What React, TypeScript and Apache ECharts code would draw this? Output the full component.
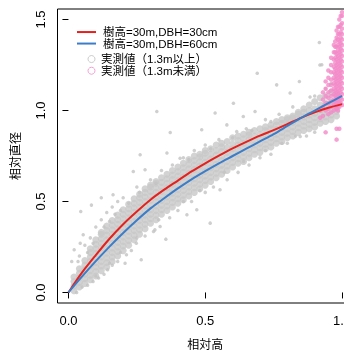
import React, { useEffect, useRef } from "react";
import * as echarts from "echarts";

const xTicks = [0, 0.5, 1];
const yTicks = [0, 0.5, 1, 1.5];

const redName = "樹高=30m,DBH=30cm";
const blueName = "樹高=30m,DBH=60cm";
const grayName = "実測値（1.3m以上）";
const pinkName = "実測値（1.3m未満）";

const lineX = [0, 0.05, 0.1, 0.15, 0.2, 0.25, 0.3, 0.35, 0.4, 0.45, 0.5, 0.55, 0.6, 0.65, 0.7, 0.75, 0.8, 0.85, 0.9, 0.95, 1.0];
const redY = [0, 0.11, 0.205, 0.295, 0.375, 0.445, 0.51, 0.565, 0.615, 0.665, 0.71, 0.752, 0.792, 0.828, 0.862, 0.892, 0.925, 0.96, 0.99, 1.015, 1.035];
const blueY = [0, 0.088, 0.172, 0.252, 0.327, 0.397, 0.462, 0.518, 0.572, 0.622, 0.667, 0.71, 0.75, 0.79, 0.83, 0.87, 0.915, 0.96, 1.0, 1.04, 1.08];

// dense cloud of measured points (1.3m以上): [x, y values...]
const grayDenseCols: number[][] = [
  [0.02, 0.01, 0.035, 0.06, 0.085],
  [0.04, 0.03, 0.055, 0.08, 0.105, 0.13],
  [0.06, 0.05, 0.075, 0.1, 0.125, 0.15, 0.175],
  [0.08, 0.07, 0.095, 0.12, 0.145, 0.17, 0.195, 0.22, 0.24],
  [0.1, 0.09, 0.115, 0.14, 0.165, 0.19, 0.215, 0.24, 0.265, 0.29],
  [0.12, 0.12, 0.145, 0.17, 0.195, 0.22, 0.245, 0.27, 0.295, 0.32, 0.33],
  [0.14, 0.14, 0.165, 0.19, 0.215, 0.24, 0.265, 0.29, 0.315, 0.34, 0.365],
  [0.16, 0.17, 0.195, 0.22, 0.245, 0.27, 0.295, 0.32, 0.345, 0.37, 0.395],
  [0.18, 0.2, 0.225, 0.25, 0.275, 0.3, 0.325, 0.35, 0.375, 0.4, 0.425],
  [0.2, 0.23, 0.255, 0.28, 0.305, 0.33, 0.355, 0.38, 0.405, 0.43, 0.455],
  [0.22, 0.26, 0.285, 0.31, 0.335, 0.36, 0.385, 0.41, 0.435, 0.46, 0.485],
  [0.24, 0.29, 0.315, 0.34, 0.365, 0.39, 0.415, 0.44, 0.465, 0.49, 0.515],
  [0.26, 0.32, 0.345, 0.37, 0.395, 0.42, 0.445, 0.47, 0.495, 0.52, 0.54],
  [0.28, 0.35, 0.375, 0.4, 0.425, 0.45, 0.475, 0.5, 0.525, 0.55, 0.57],
  [0.3, 0.38, 0.405, 0.43, 0.455, 0.48, 0.505, 0.53, 0.555, 0.58, 0.59],
  [0.32, 0.4, 0.425, 0.45, 0.475, 0.5, 0.525, 0.55, 0.575, 0.6, 0.61],
  [0.34, 0.43, 0.455, 0.48, 0.505, 0.53, 0.555, 0.58, 0.605, 0.63],
  [0.36, 0.45, 0.475, 0.5, 0.525, 0.55, 0.575, 0.6, 0.625, 0.65],
  [0.38, 0.47, 0.495, 0.52, 0.545, 0.57, 0.595, 0.62, 0.645, 0.67],
  [0.4, 0.49, 0.515, 0.54, 0.565, 0.59, 0.615, 0.64, 0.665, 0.69],
  [0.42, 0.51, 0.535, 0.56, 0.585, 0.61, 0.635, 0.66, 0.685, 0.71],
  [0.44, 0.53, 0.555, 0.58, 0.605, 0.63, 0.655, 0.68, 0.705, 0.73],
  [0.46, 0.55, 0.575, 0.6, 0.625, 0.65, 0.675, 0.7, 0.725, 0.75],
  [0.48, 0.57, 0.595, 0.62, 0.645, 0.67, 0.695, 0.72, 0.745, 0.76],
  [0.5, 0.59, 0.615, 0.64, 0.665, 0.69, 0.715, 0.74, 0.765, 0.78],
  [0.52, 0.61, 0.635, 0.66, 0.685, 0.71, 0.735, 0.76, 0.79],
  [0.54, 0.63, 0.655, 0.68, 0.705, 0.73, 0.755, 0.78, 0.81],
  [0.56, 0.65, 0.675, 0.7, 0.725, 0.75, 0.775, 0.8, 0.82],
  [0.58, 0.67, 0.695, 0.72, 0.745, 0.77, 0.795, 0.83],
  [0.6, 0.69, 0.715, 0.74, 0.765, 0.79, 0.815, 0.85],
  [0.62, 0.71, 0.735, 0.76, 0.785, 0.81, 0.835, 0.86],
  [0.64, 0.72, 0.745, 0.77, 0.795, 0.82, 0.845, 0.87],
  [0.66, 0.74, 0.765, 0.79, 0.815, 0.84, 0.865, 0.88],
  [0.68, 0.76, 0.785, 0.81, 0.835, 0.86, 0.89],
  [0.7, 0.77, 0.795, 0.82, 0.845, 0.87, 0.9],
  [0.72, 0.79, 0.815, 0.84, 0.865, 0.89, 0.91],
  [0.74, 0.8, 0.825, 0.85, 0.875, 0.9, 0.92],
  [0.76, 0.82, 0.845, 0.87, 0.895, 0.92, 0.94],
  [0.78, 0.83, 0.855, 0.88, 0.905, 0.93, 0.95],
  [0.8, 0.85, 0.875, 0.9, 0.925, 0.95, 0.96],
  [0.82, 0.86, 0.885, 0.91, 0.935, 0.96, 0.97],
  [0.84, 0.88, 0.905, 0.93, 0.955, 0.98, 0.99],
  [0.86, 0.89, 0.915, 0.94, 0.965, 0.99, 1.01],
  [0.88, 0.9, 0.925, 0.95, 0.975, 1.0, 1.03],
  [0.9, 0.91, 0.935, 0.96, 0.985, 1.01, 1.05],
  [0.92, 0.93, 0.955, 0.98, 1.005, 1.03, 1.07],
  [0.94, 0.94, 0.965, 0.99, 1.015, 1.04, 1.08],
  [0.96, 0.95, 0.975, 1.0, 1.025, 1.05, 1.1],
  [0.98, 0.97, 0.995, 1.02, 1.045, 1.09],
];

// scattered measured points (1.3m以上) at the edges of the cloud
const graySparse: number[][] = [
  [0.012, 0.17], [0.021, 0.235], [0.035, 0.17], [0.043, 0.271], [0.045, 0.445], [0.054, 0.317],
  [0.084, 0.48], [0.12, 0.52], [0.163, 0.537], [0.143, 0.125], [0.03, 0.0], [0.05, 0.03],
  [0.07, 0.04], [0.09, 0.06], [0.11, 0.08], [0.13, 0.1], [0.16, 0.15], [0.18, 0.17],
  [0.207, 0.161], [0.212, 0.207], [0.23, 0.23], [0.248, 0.271], [0.266, 0.18], [0.28, 0.31],
  [0.311, 0.335], [0.316, 0.344], [0.335, 0.363], [0.356, 0.293], [0.37, 0.41], [0.4, 0.45],
  [0.433, 0.427], [0.45, 0.5], [0.469, 0.454], [0.5, 0.55], [0.518, 0.381], [0.53, 0.58],
  [0.554, 0.564], [0.58, 0.62], [0.62, 0.66], [0.66, 0.7], [0.7, 0.74], [0.74, 0.76],
  [0.8, 0.82], [0.847, 0.857], [0.87, 0.86], [0.9, 0.88],
  [0.04, 0.2], [0.06, 0.26], [0.08, 0.3], [0.1, 0.36], [0.12, 0.4], [0.14, 0.44],
  [0.16, 0.47], [0.18, 0.5], [0.2, 0.52], [0.237, 0.665], [0.262, 0.757], [0.28, 0.674],
  [0.25, 0.58], [0.3, 0.62], [0.323, 0.995], [0.34, 0.67], [0.36, 0.766], [0.372, 0.879],
  [0.38, 0.7], [0.408, 0.738], [0.42, 0.74], [0.46, 0.78], [0.487, 0.894], [0.5, 0.81],
  [0.536, 0.986], [0.55, 0.84], [0.579, 0.921], [0.603, 1.04], [0.615, 0.885], [0.639, 0.967],
  [0.65, 0.9], [0.682, 0.995], [0.69, 1.205], [0.72, 0.95], [0.761, 1.141], [0.77, 0.98],
  [0.81, 1.096], [0.82, 1.02], [0.844, 1.159], [0.883, 1.074], [0.9, 1.08], [0.917, 1.374],
  [0.919, 1.25], [0.926, 1.251], [0.94, 1.12], [0.96, 1.15],
  [0.07, 0.22], [0.09, 0.27], [0.13, 0.36], [0.15, 0.39], [0.17, 0.43], [0.19, 0.45],
  [0.22, 0.49], [0.26, 0.55], [0.32, 0.6], [0.44, 0.73], [0.52, 0.79], [0.6, 0.85],
  [0.67, 0.89], [0.74, 0.94], [0.1, 0.09], [0.15, 0.16], [0.19, 0.22], [0.25, 0.3],
  [0.33, 0.4], [0.42, 0.5], [0.48, 0.56], [0.57, 0.66], [0.64, 0.72], [0.72, 0.78],
  [0.78, 0.82], [0.83, 0.86],
];

// measured points (1.3m未満): [x, y values...]
const pinkCols: number[][] = [
  [0.92, 0.96, 1.0],
  [0.93, 0.97, 1.02, 1.06, 1.1],
  [0.94, 0.88, 1.0, 1.04, 1.08, 1.12, 1.16],
  [0.95, 0.98, 1.01, 1.04, 1.07, 1.1, 1.14, 1.18, 1.22],
  [0.96, 0.99, 1.02, 1.05, 1.08, 1.11, 1.14, 1.17, 1.21, 1.25, 1.29],
  [0.97, 1.0, 1.03, 1.06, 1.09, 1.12, 1.15, 1.18, 1.21, 1.24, 1.28, 1.32, 1.36],
  [0.975, 1.02, 1.05, 1.08, 1.11, 1.14, 1.17, 1.2, 1.23, 1.26, 1.29, 1.32, 1.35, 1.38],
  [0.98, 0.84, 0.9, 1.01, 1.04, 1.07, 1.1, 1.13, 1.16, 1.19, 1.22, 1.25, 1.28, 1.31, 1.35, 1.4, 1.44],
  [0.985, 1.0, 1.03, 1.06, 1.09, 1.12, 1.15, 1.18, 1.21, 1.24, 1.27, 1.3, 1.33, 1.36, 1.39, 1.42, 1.46],
  [0.99, 0.9, 1.02, 1.05, 1.08, 1.11, 1.14, 1.17, 1.2, 1.23, 1.26, 1.29, 1.32, 1.35, 1.38, 1.42, 1.46, 1.5],
  [0.995, 1.04, 1.07, 1.1, 1.13, 1.16, 1.19, 1.22, 1.25, 1.28, 1.31, 1.34, 1.37, 1.4, 1.43, 1.47, 1.52],
  [1.0, 1.03, 1.06, 1.09, 1.12, 1.15, 1.18, 1.21, 1.24, 1.27, 1.3, 1.33, 1.36, 1.39, 1.42, 1.45, 1.48, 1.52, 1.54],
];

const FONT = "'Liberation Sans', Arial, 'Noto Sans CJK JP', sans-serif";
const RED = "#E5211E";
const BLUE = "#3B7DC8";
const GRAY = "#C3C3C3";
const DENSE = "#C8C8C8";
const PINK = "#F38AC8";

function expandCols(cols: number[][]): number[][] {
  const out: number[][] = [];
  cols.forEach((c) => {
    for (let i = 1; i < c.length; i++) out.push([c[0], c[i]]);
  });
  return out;
}

export default function App() {
  const ref = useRef<HTMLDivElement>(null);
  useEffect(() => {
    if (!ref.current) return;
    const chart = echarts.init(ref.current, null, { renderer: "svg" });
    const fmt = (v: number) => v.toFixed(1);
    const option: any = {
      animation: false,
      grid: {
        left: 57.5, top: 9, width: 295.5, height: 294,
        show: true, borderColor: "#000", borderWidth: 1,
        containLabel: false, outerBoundsMode: "none",
      },
      xAxis: {
        type: "value", min: -0.04, max: 1.04,
        axisLine: { show: false }, splitLine: { show: false },
        axisTick: { show: true, length: 6, customValues: xTicks, lineStyle: { color: "#000" } },
        axisLabel: { customValues: xTicks, formatter: fmt, margin: 11, fontSize: 13, color: "#000", fontFamily: FONT },
        name: "相対高", nameLocation: "middle", nameGap: 36,
        nameTextStyle: { fontSize: 12, color: "#000", fontFamily: FONT },
      },
      yAxis: {
        type: "value", min: -0.058, max: 1.558,
        axisLine: { show: false }, splitLine: { show: false },
        axisTick: { show: true, length: 6, customValues: yTicks, lineStyle: { color: "#000" } },
        axisLabel: { customValues: yTicks, formatter: fmt, rotate: 90, margin: 11, fontSize: 13, color: "#000", fontFamily: FONT },
        name: "相対直径", nameLocation: "middle", nameGap: 36,
        nameTextStyle: { fontSize: 12, color: "#000", fontFamily: FONT },
      },
      legend: [
        {
          orient: "vertical", left: 77, top: 26.3, padding: 0, selectedMode: false,
          icon: "rect", itemWidth: 19, itemHeight: 2, itemGap: 0,
          data: [redName, blueName],
          textStyle: { fontSize: 11.5, lineHeight: 11.4, color: "#000", fontFamily: FONT, padding: [0, 0, 0, 2] },
        },
        {
          orient: "vertical", left: 87.5, top: 53.2, padding: 0, selectedMode: false,
          icon: "circle", itemWidth: 7, itemHeight: 7, itemGap: 0,
          data: [
            { name: grayName, itemStyle: { color: "#fff", borderColor: "#BEBEBE", borderWidth: 1 } },
            { name: pinkName, itemStyle: { color: "#fff", borderColor: PINK, borderWidth: 1 } },
          ],
          textStyle: { fontSize: 11.5, lineHeight: 11.7, color: "#000", fontFamily: FONT, padding: [0, 0, 0, 1] },
        },
      ],
      series: [
        { type: "scatter", name: grayName, data: expandCols(grayDenseCols), symbolSize: 7, itemStyle: { color: DENSE }, silent: true, z: 1 },
        { type: "scatter", name: grayName, data: graySparse, symbolSize: 3.5, itemStyle: { color: GRAY }, silent: true, z: 1 },
        { type: "scatter", name: pinkName, data: expandCols(pinkCols), symbolSize: 4.5, itemStyle: { color: PINK }, silent: true, z: 2 },
        { type: "line", name: redName, data: lineX.map((x, i) => [x, redY[i]]), smooth: 0.3, showSymbol: false, lineStyle: { color: RED, width: 2 }, itemStyle: { color: RED }, z: 3 },
        { type: "line", name: blueName, data: lineX.map((x, i) => [x, blueY[i]]), smooth: 0.3, showSymbol: false, lineStyle: { color: BLUE, width: 2 }, itemStyle: { color: BLUE }, z: 3 },
      ],
    };
    chart.setOption(option);
    return () => chart.dispose();
  }, []);
  return <div ref={ref} style={{ position: "fixed", left: 0, top: 0, width: 344, height: 352 }} />;
}
